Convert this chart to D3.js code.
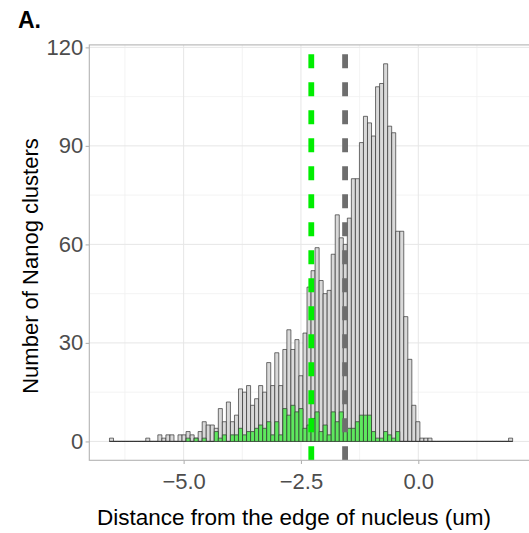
<!DOCTYPE html>
<html>
<head>
<meta charset="utf-8">
<script src="https://d3js.org/d3.v7.min.js"></script>
<style>
  html, body { margin: 0; padding: 0; background: #fff; }
  #hist-chart { width: 529px; height: 533px; }
  text { font-family: "Liberation Sans", Arial, sans-serif; }
</style>
</head>
<body>
<div id="hist-chart"></div>
<script>
// bins of the histogram (100 bins, same width)
const binStart = -6.58;
const binWidth = 0.0859;

// all Nanog clusters, count per bin
const allCounts = [
  1, 0, 0, 0, 0, 0, 0, 0, 0, 1,
  0, 0, 2, 1, 2, 2, 0, 2, 2, 3,
  2, 1, 3, 6, 5, 5, 4, 10, 6, 12,
  6, 8, 16, 15, 17, 11, 13, 17, 15, 24,
  17, 27, 17, 28, 34, 28, 31, 20, 33, 47,
  52, 59, 49, 45, 46, 57, 69, 62, 60, 68,
  80, 80, 91, 99, 97, 93, 108, 109, 115, 96,
  94, 64, 64, 38, 25, 11, 6, 1, 1, 1,
  0, 0, 0, 0, 0, 0, 0, 0, 0, 0,
  0, 0, 0, 0, 0, 0, 0, 0, 0, 1
];

// subset shown in green, count per bin
const greenCounts = [
  0, 0, 0, 0, 0, 0, 0, 0, 0, 0,
  0, 0, 0, 0, 0, 0, 0, 0, 0, 1,
  0, 1, 0, 1, 0, 0, 3, 1, 2, 0,
  2, 2, 4, 2, 3, 3, 4, 5, 4, 6,
  2, 6, 2, 10, 8, 11, 9, 10, 4, 5,
  7, 9, 3, 5, 2, 9, 6, 9, 5, 4,
  4, 6, 8, 8, 8, 3, 1, 1, 3, 2,
  1, 3, 0, 0, 0, 0, 0, 0, 0, 0,
  0, 0, 0, 0, 0, 0, 0, 0, 0, 0,
  0, 0, 0, 0, 0, 0, 0, 0, 0, 0
];

// dashed reference lines
const greenLineX = -2.28;
const greyLineX = -1.56;

// ticks
const xMajorTicks = [-5.0, -2.5, 0.0];
const xMinorTicks = [-6.25, -3.75, -1.25, 1.25];
const yMajorTicks = [0, 30, 60, 90, 120];
const yMinorTicks = [15, 45, 75, 105];

document.addEventListener('DOMContentLoaded', function () {
    const W = 529, H = 533;
    const panel = {left: 89.3, right: 532.8, top: 44.9, bottom: 460.3};

    const svg = d3.select("#hist-chart").append("svg")
        .attr("width", W)
        .attr("height", H);

    const x = d3.scaleLinear().domain([-7.01, 2.44]).range([panel.left, panel.right]);
    const y = d3.scaleLinear().domain([-5.75, 120.75]).range([panel.bottom, panel.top]);

    svg.append("clipPath").attr("id", "panel-clip")
        .append("rect")
        .attr("x", panel.left).attr("y", panel.top)
        .attr("width", panel.right - panel.left)
        .attr("height", panel.bottom - panel.top);

    const g = svg.append("g").attr("clip-path", "url(#panel-clip)");

    // gridlines (minor first, then major)
    g.selectAll(".xminor").data(xMinorTicks).enter().append("line")
        .attr("x1", d => x(d)).attr("x2", d => x(d))
        .attr("y1", panel.top).attr("y2", panel.bottom)
        .attr("stroke", "#f0f0f0").attr("stroke-width", 0.8);
    g.selectAll(".yminor").data(yMinorTicks).enter().append("line")
        .attr("x1", panel.left).attr("x2", panel.right)
        .attr("y1", d => y(d)).attr("y2", d => y(d))
        .attr("stroke", "#f0f0f0").attr("stroke-width", 0.8);
    g.selectAll(".xmajor").data(xMajorTicks).enter().append("line")
        .attr("x1", d => x(d)).attr("x2", d => x(d))
        .attr("y1", panel.top).attr("y2", panel.bottom)
        .attr("stroke", "#e6e6e6").attr("stroke-width", 1);
    g.selectAll(".ymajor").data(yMajorTicks).enter().append("line")
        .attr("x1", panel.left).attr("x2", panel.right)
        .attr("y1", d => y(d)).attr("y2", d => y(d))
        .attr("stroke", "#e6e6e6").attr("stroke-width", 1);

    // bar outline as a path so empty bins still show a flat line
    function barPath(d, i) {
        const x0 = x(binStart + i * binWidth);
        const x1 = x(binStart + (i + 1) * binWidth);
        const y0 = y(0), y1 = y(d);
        return `M${x0},${y0}V${y1}H${x1}V${y0}Z`;
    }

    g.selectAll(".bar-all").data(allCounts).enter().append("path")
        .attr("class", "bar-all")
        .attr("d", barPath)
        .attr("fill", "#d9d9d9")
        .attr("stroke", "#333")
        .attr("stroke-width", 0.7);

    g.selectAll(".bar-green").data(greenCounts).enter().append("path")
        .attr("class", "bar-green")
        .attr("d", barPath)
        .attr("fill", "#5ee85e")
        .attr("stroke", "#333")
        .attr("stroke-width", 0.7);

    // dashed lines, drawn from the bottom upward
    [[greenLineX, "#00ee00"], [greyLineX, "#6e6e6e"]].forEach(function (v) {
        g.append("line")
            .attr("x1", x(v[0])).attr("x2", x(v[0]))
            .attr("y1", panel.bottom).attr("y2", panel.top)
            .attr("stroke", v[1])
            .attr("stroke-width", 5.8)
            .attr("stroke-dasharray", "14,14");
    });

    // panel border
    svg.append("rect")
        .attr("x", panel.left).attr("y", panel.top)
        .attr("width", panel.right - panel.left)
        .attr("height", panel.bottom - panel.top)
        .attr("fill", "none")
        .attr("stroke", "#b3b3b3")
        .attr("stroke-width", 1.1);

    // axes
    const xAxis = svg.append("g")
        .attr("transform", `translate(0,${panel.bottom})`)
        .call(d3.axisBottom(x).tickValues(xMajorTicks).tickSize(3.7).tickPadding(9)
            .tickFormat(d => d3.format(".1f")(d).replace("-", "\u2212")));
    const yAxis = svg.append("g")
        .attr("transform", `translate(${panel.left},0)`)
        .call(d3.axisLeft(y).tickValues(yMajorTicks).tickSize(3.7).tickPadding(2.4));

    [xAxis, yAxis].forEach(function (a) {
        a.select(".domain").remove();
        a.selectAll(".tick line").attr("stroke", "#b3b3b3").attr("stroke-width", 1.1);
        a.selectAll(".tick text")
            .attr("fill", "#4d4d4d")
            .style("font-size", "22px")
            .style("font-family", "'Liberation Sans', Arial, sans-serif");
    });

    // axis titles
    svg.append("text")
        .attr("x", 294).attr("y", 525)
        .attr("text-anchor", "middle")
        .style("font-size", "22.5px")
        .attr("fill", "#000")
        .text("Distance from the edge of nucleus (um)");

    svg.append("text")
        .attr("transform", "translate(38,266) rotate(-90)")
        .attr("text-anchor", "middle")
        .style("font-size", "22px")
        .attr("fill", "#000")
        .text("Number of Nanog clusters");

    // panel tag
    svg.append("text")
        .attr("x", 18).attr("y", 28)
        .style("font-size", "23px")
        .style("font-weight", "bold")
        .attr("fill", "#000")
        .text("A.")
});
</script>
</body>
</html>
